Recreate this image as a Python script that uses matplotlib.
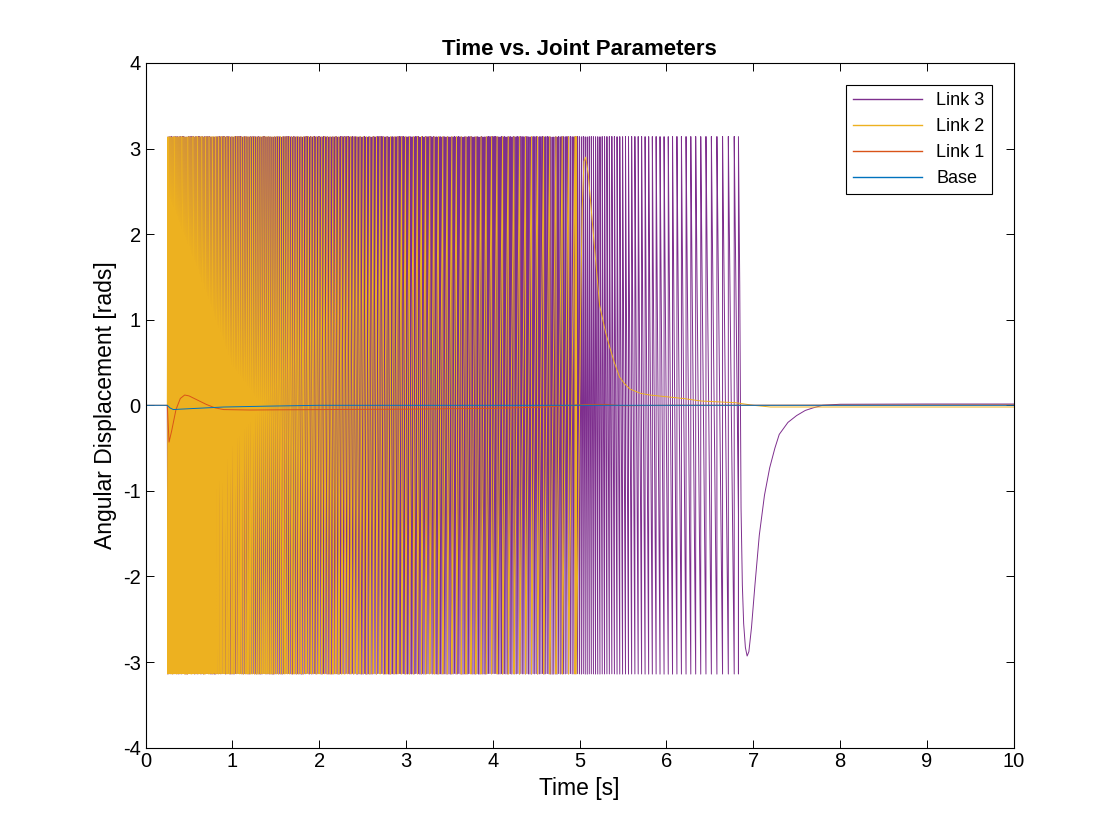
import numpy as np
import matplotlib
matplotlib.use("Agg")
import matplotlib.pyplot as plt

plt.rcParams["font.family"] = ["Liberation Sans", "DejaVu Sans"]
plt.rcParams["axes.unicode_minus"] = False

# spinning phase: joint rate checkpoints (rad/s)
link3_rate_t = [0.25, 2.0, 4.0, 4.8, 5.2, 5.6, 6.0, 6.5, 6.83]
link3_rate = [-450, -420, -380, -330, -250, -170, -130, -100, -90]
link2_rate_t = [0.25, 0.6, 1.0, 2.0, 3.0, 4.0, 4.5, 4.96]
link2_rate = [500, 420, 320, 200, 140, 100, 90, 85]
sample_dt = 0.00002

# settling phase (after the spin stops)
link3_t = [6.83, 6.83, 6.845, 6.855, 6.86, 6.875, 6.89, 6.91, 6.93, 6.95, 6.98, 7.02, 7.07,
           7.13, 7.19, 7.25, 7.30, 7.40, 7.50, 7.60, 7.69, 7.80, 8.0, 9.0, 10.0]
link3_y = [-3.14, 3.14, 1.4, -0.35, -1.2, -2.1, -2.55, -2.83, -2.93, -2.88, -2.6, -2.1, -1.52,
           -1.05, -0.73, -0.5, -0.34, -0.2, -0.12, -0.06, -0.03, 0.0, 0.012, 0.015, 0.015]
link2_t = [4.96, 4.96, 4.99, 5.01, 5.03, 5.05, 5.07, 5.10, 5.15, 5.23, 5.30, 5.35, 5.40, 5.46,
           5.52, 5.58, 5.70, 5.81, 6.0, 6.19, 6.4, 6.8, 7.0, 7.2, 8.0, 10.0]
link2_y = [3.14, -3.14, -1.0, 1.0, 2.3, 2.85, 2.9, 2.7, 2.1, 1.17, 0.85, 0.67, 0.5, 0.33,
           0.25, 0.19, 0.14, 0.12, 0.1, 0.08, 0.05, 0.03, 0.0, -0.02, -0.02, -0.02]
link1_t = [0, 0.25, 0.27, 0.3, 0.35, 0.4, 0.45, 0.5, 0.6, 0.7, 0.8, 0.9, 1.2, 2, 3, 4,
           4.6, 4.9, 5.1, 5.3, 5.5, 6, 10]
link1_y = [0, 0, -0.43, -0.3, -0.05, 0.08, 0.12, 0.11, 0.06, 0.01, -0.03, -0.05, -0.055,
           -0.05, -0.045, -0.035, -0.02, 0.0, 0.01, 0.01, -0.005, 0.0, 0.005]
base_t = [0, 0.25, 0.28, 0.32, 0.4, 0.6, 0.9, 1.4, 2, 10]
base_y = [0, 0, -0.03, -0.05, -0.045, -0.035, -0.02, -0.01, 0, 0]

colors = {"Base": "#0072BD", "Link 1": "#D95319", "Link 2": "#EDB120", "Link 3": "#7E2F8E"}


def spin(rate_t, rate, t_after, y_after):
    # wrapped angle while the joint is spinning, then the settling curve
    t = np.arange(rate_t[0], rate_t[-1], sample_dt)
    w = np.interp(t, rate_t, rate)
    ang = np.cumsum(w) * sample_dt
    wrapped = np.mod(ang + np.pi, 2 * np.pi) - np.pi
    return np.concatenate([t, t_after]), np.concatenate([wrapped, y_after])


t3, y3 = spin(link3_rate_t, link3_rate, link3_t, link3_y)
t2, y2 = spin(link2_rate_t, link2_rate, link2_t, link2_y)

fig = plt.figure(figsize=(11.2, 8.4), dpi=100)
ax = fig.add_axes([0.13, 0.11, 0.775, 0.815])
lw = 0.7
l3, = ax.plot(t3, y3, color=colors["Link 3"], lw=lw)
l2, = ax.plot(t2, y2, color=colors["Link 2"], lw=lw)
l1, = ax.plot(link1_t, link1_y, color=colors["Link 1"], lw=lw)
l0, = ax.plot(base_t, base_y, color=colors["Base"], lw=lw)

ax.set_xlim(0, 10)
ax.set_ylim(-4, 4)
ax.set_xticks(range(0, 11))
ax.set_yticks(range(-4, 5))
ax.tick_params(direction="in", top=True, right=True, labelsize=14.5, length=6, width=0.7)
for s in ax.spines.values():
    s.set_linewidth(0.8)
ax.set_xlabel("Time [s]", fontsize=16.5)
ax.set_ylabel("Angular Displacement [rads]", fontsize=16.5)
ax.set_title("Time vs. Joint Parameters", fontsize=16, fontweight="bold")
leg = ax.legend([l3, l2, l1, l0], ["Link 3", "Link 2", "Link 1", "Base"],
                loc="upper right", fontsize=13, fancybox=False, framealpha=1,
                edgecolor="black", borderaxespad=1.2, handlelength=3.8)
leg.get_frame().set_linewidth(0.8)
for h in leg.get_lines():
    h.set_linewidth(1.0)

fig.savefig("out.png", dpi=100)
